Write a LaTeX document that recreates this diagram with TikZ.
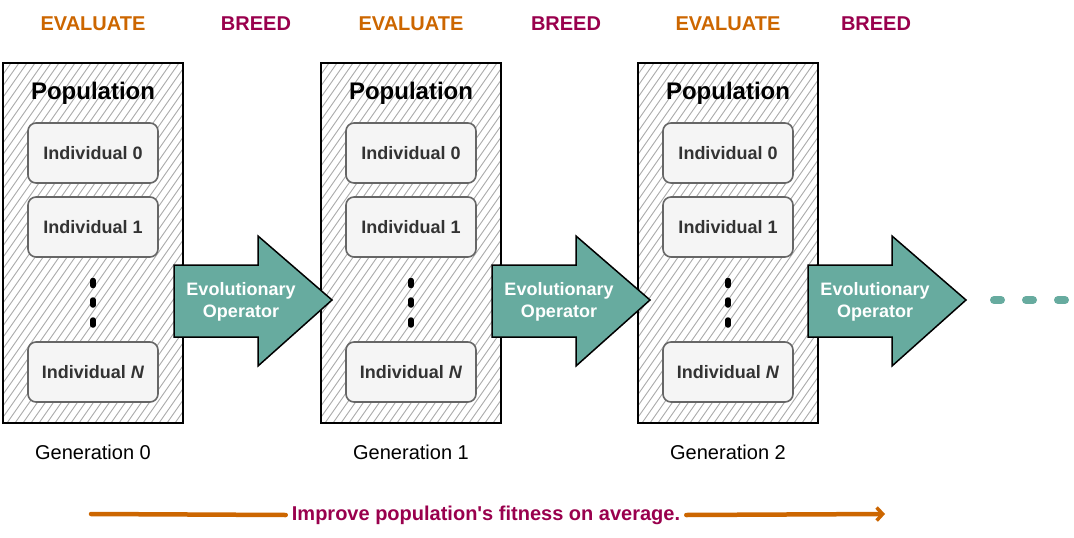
\documentclass[tikz,border=0pt]{standalone}
\usepackage{fontspec}
\setmainfont{Liberation Sans}
\newfontfamily\nolig{Liberation Sans}[Ligatures=TeXOff]
\usetikzlibrary{arrows.meta}
\definecolor{evalc}{HTML}{CC6600}
\definecolor{breedc}{HTML}{99004D}
\definecolor{tealc}{HTML}{67AB9F}
\definecolor{indfill}{HTML}{F5F5F5}
\definecolor{inddraw}{HTML}{666666}
\definecolor{indtext}{HTML}{333333}
\definecolor{hatchc}{HTML}{AAAAAA}
\begin{document}
\begin{tikzpicture}[x=1pt,y=-1pt,
  hdr/.style={font=\bfseries\fontsize{20}{24}\selectfont},
  evalhdr/.style={hdr,text=evalc},
  breedhdr/.style={hdr,text=breedc},
  popbox/.style={draw=black,line width=1.6pt,minimum width=180,minimum height=360,inner sep=0},
  poptitle/.style={font=\bfseries\fontsize{24}{28}\selectfont},
  indbox/.style={draw=inddraw,fill=indfill,line width=1.6pt,rounded corners=8pt,minimum width=130,minimum height=60,inner sep=0,text=indtext,font=\bfseries\fontsize{18}{22}\selectfont},
  hatch/.style={draw=hatchc,line width=0.9pt},
  dotmark/.style={line width=5.5pt,line cap=round},
  evoarrow/.style={fill=tealc,draw=black,line width=1.5pt,line join=miter},
  evotext/.style={text=white,font=\bfseries\fontsize{18}{22}\selectfont,align=center},
  gentext/.style={font=\fontsize{20}{24}\selectfont},
  dashline/.style={draw=tealc,line width=8pt,line cap=round,dash pattern=on 7pt off 25pt},
  improve/.style={text=breedc,font=\nolig\bfseries\fontsize{20}{24}\selectfont,inner sep=6pt},
  orangeline/.style={draw=evalc,line width=4.5pt,line cap=round}
]
\useasboundingbox (0,0) rectangle (1074,538);

% headers
\node[evalhdr]  (e0) at (93,24)  {EVALUATE};
\node[breedhdr] (b0) at (256,24) {BREED};
\node[evalhdr]  (e1) at (411,24) {EVALUATE};
\node[breedhdr] (b1) at (566,24) {BREED};
\node[evalhdr]  (e2) at (728,24) {EVALUATE};
\node[breedhdr] (b2) at (876,24) {BREED};

% generations
\foreach \cx/\g in {93/0,411/1,728/2}{
  \begin{scope}
    \clip (\cx-90,63) rectangle (\cx+90,423);
    \foreach \i in {-260,-252,...,190}
      \draw[hatch] (\cx-90+\i,423) -- ++(252,-360);
  \end{scope}
  \node[popbox] (pop\g) at (\cx,243) {};
  \node[poptitle] (title\g) at (\cx,93) {Population};
  \node[indbox] (ind0\g) at (\cx,153) {Individual 0};
  \node[indbox] (ind1\g) at (\cx,227) {Individual 1};
  \node[indbox] (indN\g) at (\cx,372) {Individual \textit{N}};
  \draw[dotmark] (\cx,280.5) -- (\cx,285.5);
  \draw[dotmark] (\cx,300) -- (\cx,305);
  \draw[dotmark] (\cx,320) -- (\cx,325);
  \node[gentext] (gen\g) at (\cx,452) {Generation \g};
}

% evolutionary operator arrows
\foreach \ax/\n in {174/1,492/2,808/3}{
  \draw[evoarrow] (\ax,265) -- (\ax+84,265) -- (\ax+84,236) -- (\ax+158,300)
     -- (\ax+84,366) -- (\ax+84,337) -- (\ax,337) -- cycle;
  \node[evotext] (op\n) at (\ax+67,302) {Evolutionary\\[0pt]Operator};
}

% continuation dashes
\coordinate (d0) at (994,300);
\coordinate (d1) at (1066,300);
\draw[dashline] (d0) -- (d1);

% bottom arrow
\node[improve] (imp) at (486,515) {Improve population's fitness on average.};
\coordinate (l0) at (91,514);
\coordinate (r0) at (885,514);
\draw[orangeline] (l0) -- (imp.west);
\draw[orangeline,-{Straight Barb[length=6pt,width=13pt,line width=3.5pt]}] (imp.east) -- (r0);
\end{tikzpicture}
\end{document}
